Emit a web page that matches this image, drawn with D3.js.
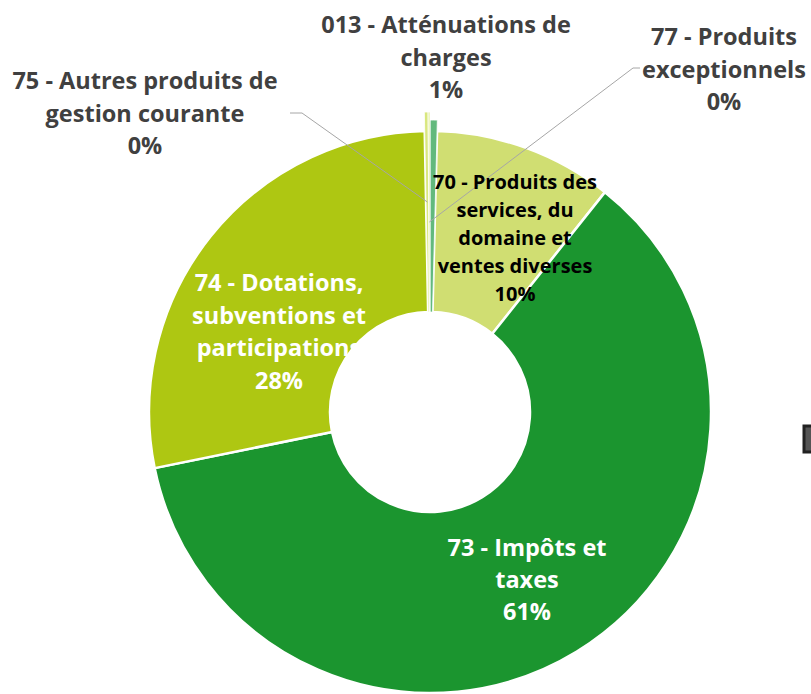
<!DOCTYPE html>
<html lang="fr">
<head>
  <meta charset="UTF-8" />
  <title>Recettes de fonctionnement</title>
  <script src="https://d3js.org/d3.v7.min.js"></script>
  <style>
    html, body {
      margin: 0;
      padding: 0;
      width: 811px;
      height: 694px;
      overflow: hidden;
      background: #fff;
    }
    svg {
      display: block;
      font-family: "Open Sans", Lato, sans-serif;
      font-weight: bold;
    }
  </style>
</head>
<body>
<svg width="811" height="694"></svg>

<script>
// chapters, clockwise from 12 o'clock
const categories = ["013", "70", "73", "74", "75", "77"];
const values = [0.4, 10.3, 61.1, 27.9, 0.2, 0.1];
const pctLabels = ["1%", "10%", "61%", "28%", "0%", "0%"];
const labelLines = [
  ["013 - Atténuations de", "charges"],
  ["70 - Produits des", "services, du", "domaine et", "ventes diverses"],
  ["73 - Impôts et", "taxes"],
  ["74 - Dotations,", "subventions et", "participations"],
  ["75 - Autres produits de", "gestion courante"],
  ["77 - Produits", "exceptionnels"]
];
const colors = ["#62b97d", "#d0de72", "#1b952f", "#aec712", "#d9e77e", "#e3ee9a"];

const svg = d3.select("svg");
const cx = 430, cy = 412, rIn = 100, rOut = 281;

// label placement (manual, as in the source chart)
const labelLayout = {
  "013": {x: 446, y: 25, step: 32.5, size: 23.5, fill: "#404040"},
  "70":  {x: 515, y: 182, step: 28, size: 20, fill: "#000"},
  "73":  {x: 527, y: 548, step: 32, size: 23.5, fill: "#fff"},
  "74":  {x: 279, y: 283, step: 32.5, size: 23.5, fill: "#fff"},
  "75":  {x: 145, y: 81, step: 32.5, size: 23.5, fill: "#404040"},
  "77":  {x: 724, y: 37, step: 32.5, size: 23.5, fill: "#404040"}
};
// tiny slices are drawn a bit longer, like in the picture
const extraOut = {"013": 11, "75": 19, "77": 19};

const pie = d3.pie().sort(null).value(d => d.v);
const slices = pie(categories.map((c, i) => ({c, v: values[i], i})));
const isTiny = d => d.data.v < 1;

const g = svg.append("g").attr("transform", `translate(${cx},${cy})`);

const arc = d3.arc().innerRadius(rIn).outerRadius(d => rOut + (extraOut[d.data.c] || 0));

// big slices first, tiny ones on top with a finer edge
g.selectAll("path")
  .data(slices.filter(d => !isTiny(d)).concat(slices.filter(isTiny)))
  .join("path")
  .attr("d", arc)
  .attr("fill", d => colors[d.data.i])
  .attr("stroke", "#fff")
  .attr("stroke-width", d => isTiny(d) ? 0.8 : 2.5)
  .attr("stroke-linejoin", "round");

// leader lines for the 0% slices
const leaders = [
  {c: "75", r: 210, from: [[290, 113], [302, 113]]},
  {c: "77", r: 190, from: [[640, 68], [633, 68]]}
];
leaders.forEach(l => {
  const s = slices.find(d => d.data.c === l.c);
  const p = d3.arc().innerRadius(l.r).outerRadius(l.r).centroid(s);
  const pts = l.from.concat([[cx + p[0], cy + p[1]]]);
  svg.append("path")
    .attr("d", d3.line()(pts))
    .attr("fill", "none")
    .attr("stroke", "#a6a6a6")
    .attr("stroke-width", 1);
});

// labels
const labels = svg.append("g");
categories.forEach((c, i) => {
  const L = labelLayout[c];
  const lines = labelLines[i].concat([pctLabels[i]]);
  const t = labels.append("text")
    .attr("text-anchor", "middle")
    .attr("font-size", L.size)
    .attr("fill", L.fill);
  lines.forEach((ln, k) => {
    t.append("tspan")
      .attr("x", L.x)
      .attr("y", L.y + k * L.step)
      .attr("dy", "0.36em")
      .text(ln);
  });
});

// cut-off box at the right edge of the picture
svg.append("rect")
  .attr("x", 804).attr("y", 426)
  .attr("width", 20).attr("height", 26)
  .attr("fill", "#555")
  .attr("stroke", "#222")
  .attr("stroke-width", 3);
</script>
</body>
</html>
